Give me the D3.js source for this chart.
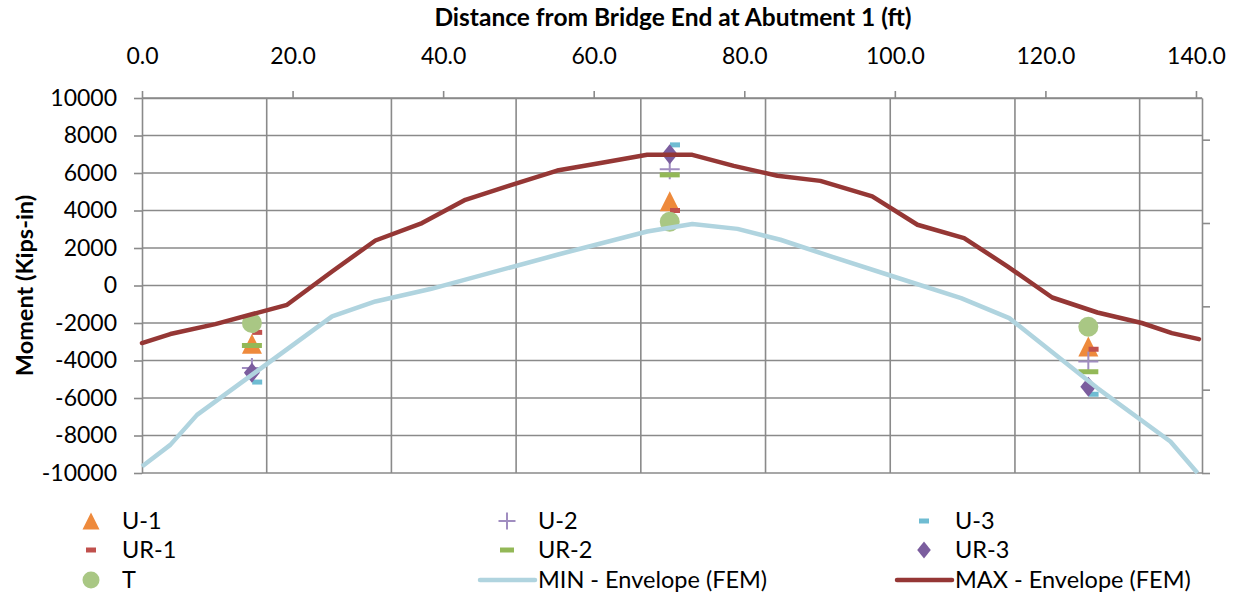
<!DOCTYPE html>
<html><head><meta charset="utf-8">
<script src="https://cdn.jsdelivr.net/npm/d3@7"></script>
<style>
body{margin:0;background:#fff;}
svg{display:block;font-family:Lato,"Open Sans",sans-serif;}
</style>
</head><body>
<svg id="chart" width="1238" height="602"></svg>
<script>
// ---- data ----
const xTickValues = [0, 20, 40, 60, 80, 100, 120, 140];
const yTickValues = [-10000, -8000, -6000, -4000, -2000, 0, 2000, 4000, 6000, 8000, 10000];
const y2TickValues = [-10000, -5000, 0, 5000, 10000];

const markerX = [14.6, 70.1, 125.7];   // ft, gauge locations
const dashX = [15.3, 70.8, 126.4];     // ft, dash-marker series
const U1  = [-3100, 4500, -3250];
const U2  = [-4400, 6200, -4050];
const U3  = [-5150, 7500, -5800];
const UR1 = [-2500, 4000, -3400];
const UR2 = [-3200, 5900, -4600];
const UR3 = [-4650, 7000, -5400];
const T   = [-2000, 3400, -2200];

const maxX   = [0, 3.76, 9.74, 19.27, 25.25, 31.0, 37.2, 42.95, 48.9, 55.15, 61.1, 67.1, 73.1, 78.6, 84.4, 90.1, 97.0, 103.0, 109.2, 115.0, 120.9, 126.9, 132.8, 136.8, 140.4];
const maxEnv = [-3070, -2590, -2060, -1030, 750, 2400, 3330, 4570, 5340, 6130, 6550, 6970, 6970, 6380, 5850, 5580, 4750, 3240, 2530, 1010, -640, -1440, -2000, -2540, -2860];
const minX   = [0, 3.76, 7.31, 25.25, 31.0, 38.3, 55.15, 67.1, 73.1, 79.1, 84.8, 91.5, 99.5, 108.8, 115.2, 126.9, 136.6, 140.2];
const minEnv = [-9650, -8500, -6900, -1650, -850, -190, 1640, 2880, 3280, 3020, 2440, 1550, 520, -670, -1740, -5470, -8320, -10000];

// ---- layout ----
const L = 142, R = 1202, TOP = 98, BOT = 473;
const svg = d3.select("#chart");

const x  = d3.scaleLinear().domain([0, 140.8]).range([L, R]);
const y  = d3.scaleLinear().domain([-10000, 10000]).range([BOT, TOP]);
const y2 = d3.scaleLinear().domain([-10000, 12500]).range([BOT, TOP]);
const xg = d3.scaleLinear().domain([0, 8.5]).range([L, R]);

const gridColor = "#8a8a8a";
const tickFont = 23;

// gridlines
svg.append("g").selectAll("line").data(yTickValues).join("line")
  .attr("x1", L).attr("x2", R).attr("y1", d => y(d)).attr("y2", d => y(d))
  .attr("stroke", gridColor).attr("stroke-width", 1.6);
svg.append("g").selectAll("line").data(d3.range(1, 9)).join("line")
  .attr("x1", d => xg(d)).attr("x2", d => xg(d)).attr("y1", TOP).attr("y2", BOT)
  .attr("stroke", gridColor).attr("stroke-width", 1.6);

// axes
function styleAxis(g){
  g.selectAll("path.domain").attr("stroke", gridColor).attr("stroke-width", 1.6);
  g.selectAll(".tick line").attr("stroke", gridColor).attr("stroke-width", 1.6);
  g.selectAll("text").attr("fill", "#000").attr("font-size", tickFont).attr("font-family", "Lato, 'Open Sans', sans-serif");
}
svg.append("g").attr("transform", `translate(0,${TOP})`)
  .call(d3.axisTop(x).tickValues(xTickValues).tickFormat(d => d.toFixed(1)).tickSize(7).tickSizeOuter(0).tickPadding(27))
  .call(styleAxis);
svg.append("g").attr("transform", `translate(${L},0)`)
  .call(d3.axisLeft(y).tickValues(yTickValues).tickFormat(d => String(d)).tickSize(8).tickSizeOuter(0).tickPadding(17))
  .call(styleAxis);
svg.append("g").attr("transform", `translate(${R},0)`)
  .call(d3.axisRight(y2).tickValues(y2TickValues).tickFormat("").tickSize(8).tickSizeOuter(0))
  .call(styleAxis);

// titles
svg.append("text").attr("x", 673).attr("y", 26).attr("text-anchor", "middle")
  .attr("font-size", 24.5).attr("font-weight", "bold").text("Distance from Bridge End at Abutment 1 (ft)");
svg.append("text").attr("transform", `translate(33,${(TOP+BOT)/2}) rotate(-90)`).attr("text-anchor", "middle")
  .attr("font-size", 23.5).attr("font-weight", "bold").text("Moment (Kips-in)");

// marker shapes
const shapes = {
  triangle: s => `M0,${-s/2}L${s/2},${s/2}L${-s/2},${s/2}Z`,
  diamond: s => `M0,${-s/2}L${s*0.4},0L0,${s/2}L${-s*0.4},0Z`,
  circle: s => `M${-s/2},0A${s/2},${s/2} 0 1,0 ${s/2},0A${s/2},${s/2} 0 1,0 ${-s/2},0Z`,
  dash: s => `M${-s/2},${-2.5}H${s/2}V2.5H${-s/2}Z`,
  plus: s => `M${-s/2},0H${s/2}M0,${-s/2}V${s/2}`
};

const series = [
  {name: "U-1",  xs: markerX, vals: U1,  shape: "triangle", size: 20, color: "#ee8a3c"},
  {name: "U-2",  xs: markerX, vals: U2,  shape: "plus",     size: 20, color: "#a08dc0"},
  {name: "U-3",  xs: dashX,   vals: U3,  shape: "dash",     size: 10, color: "#6fbcd2"},
  {name: "UR-1", xs: dashX,   vals: UR1, shape: "dash",     size: 10, color: "#c0504d"},
  {name: "UR-2", xs: markerX, vals: UR2, shape: "dash",     size: 20, color: "#93b857"},
  {name: "UR-3", xs: markerX, vals: UR3, shape: "diamond",  size: 20, color: "#7b5d9e"},
  {name: "T",    xs: markerX, vals: T,   shape: "circle",   size: 20, color: "#a9c784"}
];

function drawMarker(g, s, size){
  const p = g.append("path").attr("d", shapes[s.shape](size));
  if (s.shape === "plus") p.attr("fill", "none").attr("stroke", s.color).attr("stroke-width", 2);
  else p.attr("fill", s.color);
  return p;
}

const mg = svg.append("g");
series.forEach(s => {
  s.vals.forEach((v, i) => {
    const g = mg.append("g").attr("transform", `translate(${x(s.xs[i])},${y(v)})`);
    drawMarker(g, s, s.size);
  });
});

// envelope lines
const line = d3.line().x(d => x(d[0])).y(d => y(d[1]));
const minColor = "#b0d4df", maxColor = "#953735";
svg.append("path").datum(minX.map((d, i) => [d, minEnv[i]])).attr("d", line)
  .attr("fill", "none").attr("stroke", minColor).attr("stroke-width", 4.5).attr("stroke-linejoin", "round");
svg.append("path").datum(maxX.map((d, i) => [d, maxEnv[i]])).attr("d", line)
  .attr("fill", "none").attr("stroke", maxColor).attr("stroke-width", 4.5).attr("stroke-linejoin", "round").attr("stroke-linecap", "round");

// legend
const legendItems = [
  ...series.map(s => ({...s, type: "marker"})),
  {name: "MIN - Envelope (FEM)", type: "line", color: minColor},
  {name: "MAX - Envelope (FEM)", type: "line", color: maxColor}
];
const colText = [122, 538, 955];
const rowY = [521, 550, 580];
const lg = svg.append("g").attr("font-size", 23.5);
legendItems.forEach((it, i) => {
  const c = i % 3, r = Math.floor(i / 3);
  const tx = colText[c], ty = rowY[r];
  if (it.type === "line") {
    lg.append("line").attr("x1", tx - 58).attr("x2", tx - 3).attr("y1", ty).attr("y2", ty)
      .attr("stroke", it.color).attr("stroke-width", 4.5).attr("stroke-linecap", "round");
  } else {
    const g = lg.append("g").attr("transform", `translate(${tx - 31},${ty})`);
    const sz = it.shape === "dash" ? (it.size === 20 ? 14 : 10) : 17;
    drawMarker(g, it, sz);
  }
  lg.append("text").attr("x", tx).attr("y", ty).attr("dy", "0.35em").attr("fill", "#000").text(it.name);
});
</script>
</body></html>
